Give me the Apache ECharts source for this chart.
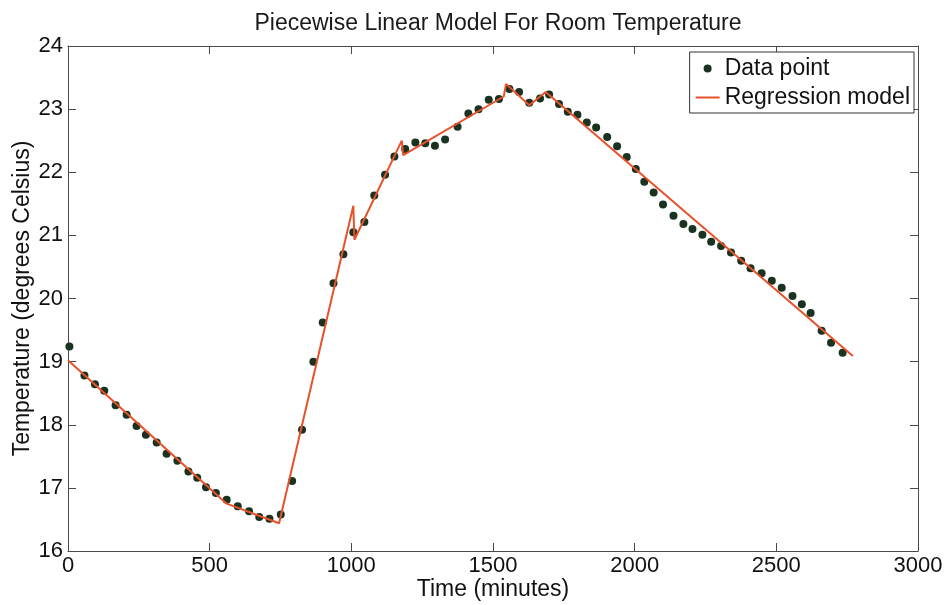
<!DOCTYPE html>
<html>
<head>
<meta charset="utf-8">
<script src="https://cdn.jsdelivr.net/npm/echarts@6/dist/echarts.min.js"></script>
<style>
  html, body { margin: 0; padding: 0; background: #fff; }
  #chart { width: 948px; height: 605px; }
</style>
</head>
<body>
<div id="chart"></div>
<script>
// Medidas (minutos, grados Celsius)
var tiempoPuntos = [5, 58, 95, 128, 168, 207, 242, 275, 313, 348, 386, 425, 456, 487, 522, 560, 599, 639, 675, 711,
  751, 791, 826, 866, 899, 937, 972, 1007, 1046, 1081, 1119, 1152, 1190, 1226, 1261, 1295, 1331, 1375, 1413, 1449,
  1485, 1521, 1558, 1592, 1628, 1666, 1698, 1733, 1764, 1798, 1831, 1864, 1903, 1938, 1972, 2004, 2034, 2067, 2100,
  2137, 2172, 2204, 2239, 2270, 2305, 2340, 2376, 2409, 2448, 2484, 2519, 2557, 2590, 2621, 2660, 2693, 2734];
var tempPuntos = [19.24, 18.78, 18.64, 18.54, 18.31, 18.16, 17.98, 17.84, 17.72, 17.54, 17.43, 17.26, 17.16, 17.01, 16.92, 16.81, 16.71, 16.63, 16.54, 16.51,
  16.58, 17.11, 17.92, 19.00, 19.62, 20.24, 20.70, 21.05, 21.21, 21.63, 21.96, 22.25, 22.37, 22.47, 22.46, 22.42, 22.52, 22.72, 22.93, 23.00,
  23.15, 23.16, 23.32, 23.27, 23.10, 23.17, 23.23, 23.08, 22.96, 22.91, 22.79, 22.71, 22.56, 22.41, 22.24, 22.05, 21.85, 21.68, 21.49,
  21.31, 21.18, 21.10, 21.01, 20.90, 20.83, 20.73, 20.60, 20.48, 20.40, 20.28, 20.17, 20.04, 19.91, 19.77, 19.49, 19.30, 19.14];

// Vertices del modelo lineal por tramos
var tiempoModelo = [0, 560, 745, 1007, 1011, 1178, 1183, 1538, 1546, 1628, 1686, 2770];
var tempModelo = [19.02, 16.75, 16.44, 21.47, 20.93, 22.50, 22.27, 23.20, 23.40, 23.06, 23.27, 19.09];

var ejeX = { min: 0, max: 3000, intervalo: 500 };
var ejeY = { min: 16, max: 24, intervalo: 1 };

var fuente = "'Liberation Sans', Arial, Helvetica, sans-serif";
var colorEje = "#4a4a4a";
var colorPunto = "#1a3320";
var colorModelo = "#e8522a";

function zip(a, b) {
  return a.map(function (v, i) { return [v, b[i]]; });
}

// Eje base estilo MATLAB: marcas hacia dentro, sin rejilla
function ejeBase(extra) {
  var base = {
    type: "value",
    splitLine: { show: false },
    axisLine: { show: true, onZero: false, lineStyle: { color: colorEje, width: 1 } },
    axisTick: { show: true, inside: true, length: 8, lineStyle: { color: colorEje } },
    axisLabel: { color: "#111", fontSize: 22, fontFamily: fuente, formatter: function (v) { return String(v); } },
  };
  return Object.assign(base, extra);
}

var option = {
  animation: false,
  backgroundColor: "#fff",
  title: {
    text: "Piecewise Linear Model For Room Temperature",
    left: 493,
    textAlign: "center",
    top: 7,
    textStyle: { fontSize: 23, fontWeight: "normal", color: "#1a1a1a", fontFamily: fuente },
  },
  grid: { left: 68, right: 30, top: 46, bottom: 54, outerBoundsMode: "none", containLabel: false },
  legend: {
    orient: "vertical",
    right: 34,
    top: 52,
    backgroundColor: "#fff",
    borderColor: "#333",
    borderWidth: 1,
    borderRadius: 0,
    padding: [4, 4, 3, 6],
    itemGap: 4,
    itemWidth: 24,
    itemHeight: 8,
    textStyle: { fontSize: 23, lineHeight: 25, color: "#111", fontFamily: fuente },
    data: [
      { name: "Data point", icon: "circle" },
      { name: "Regression model", icon: "path://M0,0L24,0L24,2L0,2Z" },
    ],
  },
  xAxis: [
    ejeBase({
      min: ejeX.min, max: ejeX.max, interval: ejeX.intervalo,
      name: "Time (minutes)", nameLocation: "middle", nameGap: 27, nameMoveOverlap: false,
      nameTextStyle: { fontSize: 23, color: "#111", fontFamily: fuente },
      axisLabel: { color: "#111", fontSize: 22, fontFamily: fuente, margin: 4, formatter: function (v) { return String(v); } },
    }),
    ejeBase({ min: ejeX.min, max: ejeX.max, interval: ejeX.intervalo, position: "top", axisLabel: { show: false } }),
  ],
  yAxis: [
    ejeBase({
      min: ejeY.min, max: ejeY.max, interval: ejeY.intervalo,
      name: "Temperature (degrees Celsius)", nameLocation: "middle", nameGap: 34, nameMoveOverlap: false,
      nameTextStyle: { fontSize: 23, color: "#111", fontFamily: fuente },
      axisLabel: { color: "#111", fontSize: 22, fontFamily: fuente, margin: 5, formatter: function (v) { return String(v); } },
    }),
    ejeBase({ min: ejeY.min, max: ejeY.max, interval: ejeY.intervalo, position: "right", axisLabel: { show: false } }),
  ],
  series: [
    {
      name: "Data point",
      type: "scatter",
      data: zip(tiempoPuntos, tempPuntos),
      symbol: "circle",
      symbolSize: 8,
      symbolKeepAspect: true,
      itemStyle: { color: colorPunto, opacity: 1 },
      z: 2,
    },
    {
      name: "Regression model",
      type: "line",
      data: zip(tiempoModelo, tempModelo),
      showSymbol: false,
      symbol: "none",
      lineStyle: { color: colorModelo, width: 2 },
      itemStyle: { color: colorModelo },
      z: 3,
    },
  ],
};

var myChart = echarts.init(document.getElementById("chart"), null, { renderer: "canvas" });
myChart.setOption(option);
</script>
</body>
</html>
